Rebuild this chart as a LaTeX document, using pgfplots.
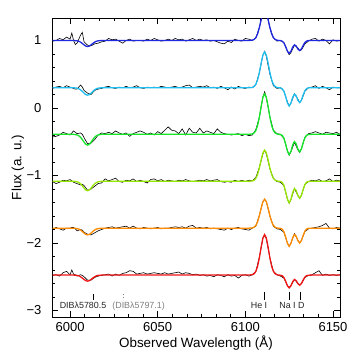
\documentclass[border=0pt]{standalone}
\usepackage{fontspec}
\setmainfont{Liberation Sans}
\usepackage{pgfplots}
\usepackage{pgfplotstable}
\pgfplotsset{compat=1.18}

\definecolor{cblue}{RGB}{30,40,225}
\definecolor{ccyan}{RGB}{30,190,240}
\definecolor{cgreen}{RGB}{20,230,40}
\definecolor{clime}{RGB}{150,230,0}
\definecolor{corange}{RGB}{255,140,0}
\definecolor{cred}{RGB}{240,20,20}

% observed spectra, offset by 0.695 each
\pgfplotstableread{
x b1 b2 b3 b4 b5 b6
5990 0.99 0.29 -0.43 -1.09 -1.80 -2.48
5992 1.00 0.31 -0.42 -1.12 -1.77 -2.47
5994 1.03 0.32 -0.40 -1.10 -1.79 -2.49
5996 1.01 0.30 -0.36 -1.07 -1.81 -2.44
5998 1.05 0.33 -0.38 -1.08 -1.78 -2.42
6000 1.02 0.31 -0.40 -1.06 -1.78 -2.47
6001 1.11 0.30 -0.37 -1.08 -1.77 -2.40
6002 1.00 0.29 -0.34 -1.10 -1.77 -2.46
6003 0.94 0.28 -0.36 -1.11 -1.79 -2.47
6004 0.96 0.28 -0.38 -1.12 -1.82 -2.49
6006 1.08 0.34 -0.37 -1.14 -1.80 -2.47
6007 1.12 0.31 -0.39 -1.13 -1.81 -2.48
6008 0.98 0.26 -0.44 -1.15 -1.84 -2.50
6010 0.93 0.22 -0.53 -1.22 -1.87 -2.55
6012 0.92 0.20 -0.52 -1.20 -1.88 -2.55
6014 0.95 0.26 -0.47 -1.16 -1.85 -2.51
6016 0.96 0.28 -0.40 -1.12 -1.82 -2.49
6018 0.98 0.29 -0.37 -1.11 -1.80 -2.48
6020 0.99 0.31 -0.38 -1.05 -1.78 -2.47
6022 1.03 0.32 -0.36 -1.08 -1.77 -2.46
6024 1.01 0.30 -0.38 -1.06 -1.76 -2.49
6026 1.02 0.29 -0.34 -1.04 -1.78 -2.46
6028 0.99 0.31 -0.37 -1.09 -1.77 -2.48
6030 0.96 0.30 -0.39 -1.10 -1.76 -2.45
6032 1.00 0.32 -0.37 -1.07 -1.75 -2.44
6034 1.02 0.30 -0.42 -1.08 -1.78 -2.41
6036 0.99 0.31 -0.38 -1.05 -1.75 -2.42
6038 1.00 0.33 -0.36 -1.09 -1.78 -2.46
6040 1.00 0.30 -0.34 -1.07 -1.79 -2.45
6042 0.99 0.29 -0.36 -1.09 -1.77 -2.44
6044 1.02 0.31 -0.39 -1.11 -1.78 -2.46
6046 1.00 0.30 -0.37 -1.06 -1.79 -2.45
6048 1.03 0.31 -0.40 -1.05 -1.78 -2.44
6050 1.01 0.30 -0.35 -1.08 -1.77 -2.45
6052 0.99 0.32 -0.38 -1.06 -1.79 -2.46
6054 1.00 0.31 -0.33 -1.09 -1.78 -2.44
6056 1.02 0.30 -0.28 -1.07 -1.78 -2.46
6058 1.00 0.31 -0.33 -1.08 -1.77 -2.45
6060 1.03 0.32 -0.34 -1.09 -1.76 -2.44
6062 1.01 0.30 -0.38 -1.07 -1.77 -2.43
6064 1.02 0.31 -0.31 -1.08 -1.76 -2.46
6066 0.99 0.33 -0.40 -1.06 -1.78 -2.44
6068 1.01 0.34 -0.30 -1.08 -1.75 -2.45
6070 1.03 0.30 -0.36 -1.09 -1.74 -2.47
6072 1.00 0.31 -0.37 -1.08 -1.78 -2.46
6074 1.02 0.32 -0.30 -1.07 -1.77 -2.48
6076 1.00 0.31 -0.37 -1.08 -1.78 -2.47
6078 1.01 0.33 -0.34 -1.06 -1.77 -2.49
6080 0.99 0.30 -0.36 -1.08 -1.79 -2.48
6082 1.00 0.31 -0.38 -1.07 -1.78 -2.50
6084 0.98 0.29 -0.31 -1.06 -1.79 -2.47
6086 0.96 0.32 -0.36 -1.09 -1.80 -2.48
6088 0.95 0.30 -0.38 -1.10 -1.81 -2.50
6090 0.99 0.27 -0.39 -1.09 -1.78 -2.47
6092 0.97 0.31 -0.40 -1.10 -1.80 -2.49
6094 1.02 0.28 -0.39 -1.07 -1.78 -2.48
6096 1.00 0.32 -0.38 -1.09 -1.77 -2.52
6098 0.99 0.30 -0.41 -1.07 -1.79 -2.48
6100 1.03 0.29 -0.39 -1.09 -1.80 -2.47
6102 1.02 0.31 -0.41 -1.07 -1.81 -2.49
6104 1.00 0.30 -0.40 -1.08 -1.78 -2.47
6106 1.04 0.35 -0.32 -1.03 -1.75 -2.42
6108 1.19 0.52 -0.14 -0.88 -1.59 -2.21
6110 1.41 0.78 0.16 -0.68 -1.39 -1.93
6111 1.47 0.84 0.24 -0.63 -1.35 -1.88
6112 1.42 0.76 0.15 -0.68 -1.39 -1.94
6114 1.19 0.50 -0.13 -0.90 -1.60 -2.22
6116 1.04 0.33 -0.33 -1.04 -1.75 -2.42
6118 0.99 0.29 -0.38 -1.09 -1.79 -2.47
6120 1.00 0.30 -0.39 -1.10 -1.80 -2.49
6122 0.97 0.25 -0.45 -1.15 -1.84 -2.52
6124 0.84 0.09 -0.63 -1.35 -2.00 -2.63
6125 0.79 0.03 -0.70 -1.41 -2.05 -2.66
6126 0.82 0.07 -0.65 -1.36 -2.00 -2.63
6128 0.93 0.21 -0.51 -1.19 -1.86 -2.54
6130 0.89 0.13 -0.62 -1.30 -1.96 -2.60
6131 0.85 0.08 -0.66 -1.34 -2.00 -2.62
6132 0.86 0.11 -0.60 -1.29 -1.96 -2.60
6134 0.95 0.25 -0.43 -1.13 -1.83 -2.51
6136 0.99 0.30 -0.38 -1.09 -1.79 -2.48
6138 1.02 0.31 -0.37 -1.07 -1.78 -2.47
6140 1.03 0.33 -0.35 -1.08 -1.77 -2.44
6142 0.99 0.29 -0.37 -1.06 -1.76 -2.41
6144 1.02 0.32 -0.39 -1.09 -1.74 -2.48
6146 1.00 0.30 -0.36 -1.08 -1.71 -2.46
6148 0.95 0.27 -0.37 -1.05 -1.78 -2.48
6150 1.01 0.31 -0.38 -1.09 -1.79 -2.47
6152 0.99 0.30 -0.36 -1.07 -1.77 -2.48
6154 1.00 0.30 -0.39 -1.08 -1.78 -2.47
}\obs

% fitted model curves
\pgfplotstableread{
x m1 m2 m3 m4 m5 m6
5990 1.000 0.300 -0.390 -1.085 -1.780 -2.475
6002 1.000 0.300 -0.390 -1.085 -1.780 -2.475
6004 0.995 0.294 -0.399 -1.093 -1.786 -2.480
6005 0.988 0.285 -0.412 -1.104 -1.794 -2.487
6006 0.975 0.269 -0.434 -1.124 -1.808 -2.500
6007 0.956 0.246 -0.468 -1.153 -1.829 -2.519
6008 0.935 0.220 -0.506 -1.187 -1.853 -2.540
6009 0.917 0.198 -0.538 -1.214 -1.872 -2.558
6010 0.910 0.190 -0.550 -1.225 -1.880 -2.565
6011 0.917 0.198 -0.538 -1.214 -1.872 -2.558
6012 0.935 0.220 -0.506 -1.187 -1.853 -2.540
6013 0.956 0.246 -0.468 -1.153 -1.829 -2.519
6014 0.975 0.269 -0.434 -1.124 -1.808 -2.500
6015 0.988 0.285 -0.412 -1.104 -1.794 -2.487
6016 0.995 0.294 -0.399 -1.093 -1.786 -2.480
6018 1.000 0.300 -0.390 -1.085 -1.780 -2.475
6102 1.000 0.300 -0.390 -1.085 -1.780 -2.475
6104 1.005 0.305 -0.384 -1.080 -1.776 -2.469
6105 1.015 0.317 -0.370 -1.070 -1.766 -2.455
6106 1.042 0.350 -0.334 -1.042 -1.740 -2.419
6107 1.099 0.417 -0.258 -0.984 -1.685 -2.343
6108 1.192 0.526 -0.134 -0.889 -1.596 -2.219
6109 1.308 0.663 0.021 -0.770 -1.485 -2.064
6110 1.410 0.782 0.156 -0.666 -1.389 -1.929
6111 1.450 0.830 0.210 -0.625 -1.350 -1.875
6112 1.410 0.782 0.156 -0.666 -1.389 -1.929
6113 1.308 0.663 0.021 -0.770 -1.485 -2.064
6114 1.192 0.526 -0.134 -0.889 -1.596 -2.219
6115 1.099 0.417 -0.258 -0.984 -1.685 -2.343
6116 1.042 0.350 -0.334 -1.042 -1.740 -2.419
6117 1.015 0.317 -0.370 -1.070 -1.766 -2.455
6118 1.005 0.305 -0.384 -1.080 -1.776 -2.469
6119 1.000 0.300 -0.390 -1.085 -1.780 -2.475
6120 0.998 0.297 -0.393 -1.088 -1.783 -2.477
6121 0.990 0.286 -0.406 -1.102 -1.794 -2.485
6122 0.964 0.248 -0.447 -1.146 -1.832 -2.511
6123 0.909 0.170 -0.534 -1.239 -1.910 -2.566
6124 0.842 0.075 -0.640 -1.351 -2.005 -2.633
6125 0.810 0.030 -0.690 -1.405 -2.050 -2.665
6126 0.840 0.073 -0.643 -1.354 -2.007 -2.635
6127 0.901 0.158 -0.548 -1.252 -1.922 -2.574
6128 0.935 0.206 -0.497 -1.194 -1.874 -2.540
6129 0.918 0.180 -0.531 -1.222 -1.900 -2.557
6130 0.873 0.114 -0.609 -1.296 -1.966 -2.602
6131 0.850 0.080 -0.650 -1.335 -2.000 -2.625
6132 0.875 0.117 -0.606 -1.293 -1.963 -2.600
6133 0.928 0.194 -0.515 -1.205 -1.886 -2.547
6134 0.971 0.258 -0.440 -1.133 -1.822 -2.504
6135 0.992 0.288 -0.404 -1.098 -1.792 -2.483
6136 0.998 0.298 -0.393 -1.088 -1.782 -2.477
6138 1.000 0.300 -0.390 -1.085 -1.780 -2.475
6154 1.000 0.300 -0.390 -1.085 -1.780 -2.475
}\fit

\begin{document}
\begin{tikzpicture}
\begin{axis}[
    scale only axis,
    width=288pt, height=299pt,
    xmin=5989.7, xmax=6154,
    ymin=-3.096, ymax=1.333,
    xtick={6000,6050,6100,6150},
    xticklabels={6000,6050,6100,6150},
    ytick={-3,-2,-1,0,1},
    yticklabels={−3,−2,−1,0,1},
    minor x tick num=5,
    minor y tick num=4,
    major tick length=6pt,
    minor tick length=3pt,
    tick style={black, line width=0.6pt},
    axis line style={line width=0.8pt},
    ticklabel style={font=\fontsize{13}{15}\selectfont},
    yticklabel style={xshift=-7pt},
    xticklabel style={yshift=-1.5pt},
    xlabel={Observed Wavelength (Å)},
    ylabel={Flux (a. u.)},
    every axis x label/.style={at={(axis description cs:0.5,-0.087)},anchor=center,font=\fontsize{13.4}{16}\selectfont},
    every axis y label/.style={at={(axis description cs:-0.118,0.5)},anchor=center,rotate=90,font=\fontsize{13.4}{16}\selectfont},
]
\addplot[black, line width=0.6pt] table[x=x,y=b1]{\obs};
\addplot[cblue, line width=1.3pt] table[x=x,y=m1]{\fit};
\addplot[black, line width=0.6pt] table[x=x,y=b2]{\obs};
\addplot[ccyan, line width=1.3pt] table[x=x,y=m2]{\fit};
\addplot[black, line width=0.6pt] table[x=x,y=b3]{\obs};
\addplot[cgreen, line width=1.3pt] table[x=x,y=m3]{\fit};
\addplot[black, line width=0.6pt] table[x=x,y=b4]{\obs};
\addplot[clime, line width=1.3pt] table[x=x,y=m4]{\fit};
\addplot[black, line width=0.6pt] table[x=x,y=b5]{\obs};
\addplot[corange, line width=1.3pt] table[x=x,y=m5]{\fit};
\addplot[black, line width=0.6pt] table[x=x,y=b6]{\obs};
\addplot[cred, line width=1.3pt] table[x=x,y=m6]{\fit};

% line identifications
\draw[line width=0.7pt] (axis cs:6013.3,-2.76) -- (axis cs:6013.3,-2.84);
\draw[gray, dotted, line width=0.7pt] (axis cs:6030.2,-2.76) -- (axis cs:6030.2,-2.84);
\draw[line width=0.7pt] (axis cs:6110.8,-2.72) -- (axis cs:6110.8,-2.84);
\draw[line width=0.7pt] (axis cs:6125.0,-2.72) -- (axis cs:6125.0,-2.84);
\draw[line width=0.7pt] (axis cs:6131.5,-2.72) -- (axis cs:6131.5,-2.84);
\node[font=\fontsize{8.9}{10}\selectfont, text=black!85] at (axis cs:6007.4,-2.93) {DIBλ5780.5};
\node[font=\fontsize{8.9}{10}\selectfont, text=gray] at (axis cs:6039.1,-2.93) {(DIBλ5797.1)};
\node[font=\fontsize{8.9}{10}\selectfont, text=black!85] at (axis cs:6107.8,-2.93) {He I};
\node[font=\fontsize{8.9}{10}\selectfont, text=black!85] at (axis cs:6126.6,-2.93) {Na I D};
\end{axis}
\path (-52pt,-40pt) rectangle (305pt,317pt);
\end{tikzpicture}
\end{document}
